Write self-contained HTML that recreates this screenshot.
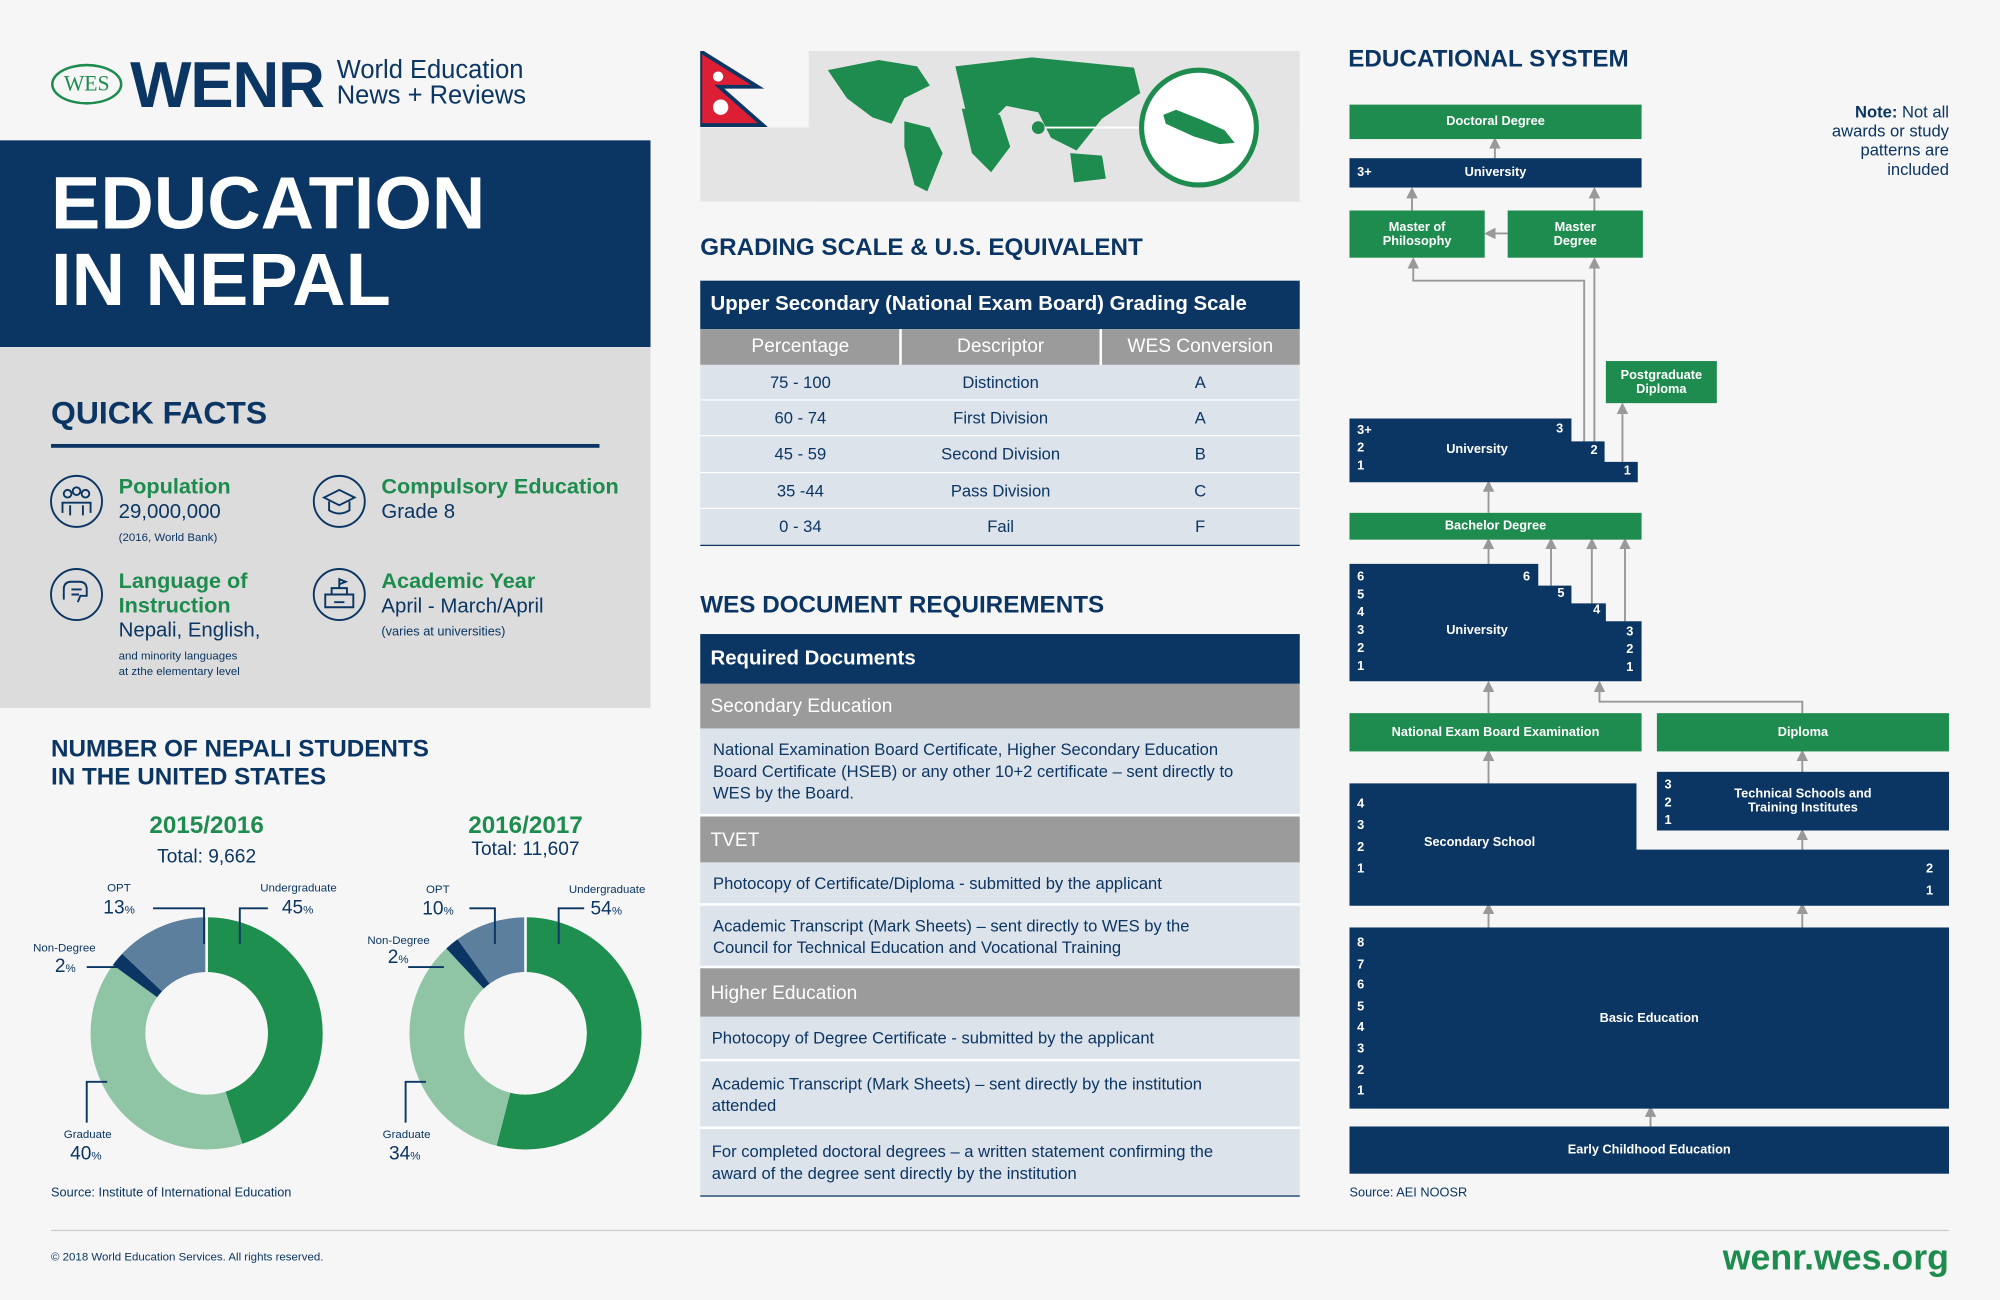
<!DOCTYPE html>
<html><head><meta charset="utf-8">
<style>
*{margin:0;padding:0;box-sizing:border-box}
html,body{width:2000px;height:1300px;overflow:hidden;background:#f6f6f6}
#w{position:absolute;left:0;top:0;width:1568px;height:1019px;transform:scale(1.27551,1.27576);transform-origin:0 0;font-family:"Liberation Sans",sans-serif;color:#0b3563}
.a{position:absolute}
.navy{color:#0b3563}.green{color:#1e8c4e}
.h{font-weight:bold}
.gh{background:#9b9b9b;color:#fff;font-size:15px;padding-left:8px;display:flex;align-items:center}
.doc{background:#dde3ea;border-bottom:2px solid #fff;font-size:13px;color:#0b3563;padding:0 10px;display:flex;align-items:center;line-height:17px;white-space:nowrap}
.bx{position:absolute;color:#fff;font-size:10px;font-weight:bold;display:flex;align-items:center;justify-content:center;text-align:center;line-height:11px}
.gb{background:#1e8c4e}.nb{background:#0b3563}
.num{position:absolute;color:#fff;font-size:10px;font-weight:bold;line-height:14px}
</style></head><body><div id="w">
<!-- logo -->
<div class="a" style="left:40px;top:50px;width:56px;height:32px;border:2px solid #1e8c4e;border-radius:50%;color:#1e8c4e;font-family:'Liberation Serif',serif;font-size:17px;text-align:center;line-height:28px">WES</div>
<div class="a h" style="left:102px;top:37px;font-size:51px;letter-spacing:-1px">WENR</div>
<div class="a" style="left:264px;top:45px;font-size:20px;line-height:20px">World Education<br>News + Reviews</div>
<!-- title -->
<div class="a" style="left:0;top:110px;width:510px;height:162px;background:#0b3563"></div>
<div class="a h" style="left:40px;top:130px;color:#fff;font-size:58px;line-height:60px">EDUCATION<br>IN NEPAL</div>
<div class="a" style="left:0;top:272px;width:510px;height:283px;background:#dcdcdc"></div>
<div class="a h" style="left:40px;top:310px;font-size:25px">QUICK FACTS</div>
<div class="a" style="left:40px;top:348px;width:430px;height:3px;background:#0b3563"></div>
<svg class="a" style="left:0;top:0" width="510" height="560">
<g fill="none" stroke="#0b3563" stroke-width="1.5">
<circle cx="60" cy="393" r="20"/><circle cx="266" cy="393" r="20"/><circle cx="60" cy="466" r="20"/><circle cx="266" cy="466" r="20"/>
<circle cx="53" cy="387" r="3"/><circle cx="60" cy="385" r="3"/><circle cx="67" cy="387" r="3"/><path d="M49 402v-8h22v8M55 404v-8M65 404v-8"/>
<path d="M254 390l12-6 12 6-12 6z M258 393v7q8 5 16 0v-7"/>
<path d="M50 470v-8q0-6 6-6h6q6 0 6 6v5h-5l-2 5M56 462h8M56 466h6"/>
<path d="M255 476v-10h22v10zM260 466v-5h12v5M266 461v-7l5 2-5 2M262 472h8"/>
</g></svg>
<div class="a h green" style="left:93px;top:372px;font-size:17px">Population</div>
<div class="a" style="left:93px;top:393px;font-size:16px">29,000,000</div>
<div class="a" style="left:93px;top:416px;font-size:9px">(2016, World Bank)</div>
<div class="a h green" style="left:299px;top:372px;font-size:17px">Compulsory Education</div>
<div class="a" style="left:299px;top:393px;font-size:16px">Grade 8</div>
<div class="a h green" style="left:93px;top:446px;font-size:17px;line-height:19px">Language of<br>Instruction</div>
<div class="a" style="left:93px;top:486px;font-size:16px">Nepali, English,</div>
<div class="a" style="left:93px;top:508px;font-size:9px;line-height:12px">and minority languages<br>at zthe elementary level</div>
<div class="a h green" style="left:299px;top:446px;font-size:17px">Academic Year</div>
<div class="a" style="left:299px;top:467px;font-size:16px">April - March/April</div>
<div class="a" style="left:299px;top:490px;font-size:10px">(varies at universities)</div>
<div class="a h" style="left:40px;top:577px;font-size:19px;line-height:22px">NUMBER OF NEPALI STUDENTS<br>IN THE UNITED STATES</div>
<div class="a h green" style="left:102px;top:637px;width:120px;text-align:center;font-size:19px">2015/2016</div>
<div class="a" style="left:102px;top:663px;width:120px;text-align:center;font-size:15px">Total: 9,662</div>
<div class="a h green" style="left:352px;top:637px;width:120px;text-align:center;font-size:19px">2016/2017</div>
<div class="a" style="left:352px;top:657px;width:120px;text-align:center;font-size:15px">Total: 11,607</div>
<svg class="a" style="left:0;top:0" width="520" height="960">
<g fill="none" stroke-width="43">
<g transform="rotate(-90 162 810)">
<circle cx="162" cy="810" r="69.5" stroke="#1f8f50" stroke-dasharray="196.5 500"/>
<circle cx="162" cy="810" r="69.5" stroke="#8fc5a5" stroke-dasharray="174.7 500" stroke-dashoffset="-196.5"/>
<circle cx="162" cy="810" r="69.5" stroke="#0b3563" stroke-dasharray="8.7 500" stroke-dashoffset="-371.2"/>
<circle cx="162" cy="810" r="69.5" stroke="#5b7f9c" stroke-dasharray="56.8 500" stroke-dashoffset="-379.9"/>
</g>
<g transform="rotate(-90 412 810)">
<circle cx="412" cy="810" r="69.5" stroke="#1f8f50" stroke-dasharray="235.8 500"/>
<circle cx="412" cy="810" r="69.5" stroke="#8fc5a5" stroke-dasharray="148.5 500" stroke-dashoffset="-235.8"/>
<circle cx="412" cy="810" r="69.5" stroke="#0b3563" stroke-dasharray="8.7 500" stroke-dashoffset="-384.3"/>
<circle cx="412" cy="810" r="69.5" stroke="#5b7f9c" stroke-dasharray="43.7 500" stroke-dashoffset="-393"/>
</g></g>
<g stroke="#fff" stroke-width="2"><line x1="162" y1="810" x2="162" y2="718"/><line x1="412" y1="810" x2="412" y2="718"/></g>
<circle cx="162" cy="810" r="48" fill="#f6f6f6"/><circle cx="412" cy="810" r="48" fill="#f6f6f6"/>
<g fill="none" stroke="#0b3563" stroke-width="1.5">
<path d="M120 712h40v28"/><path d="M188 740v-28h22"/><path d="M68 758h26"/><path d="M68 880v-32h16"/>
<path d="M368 712h20v28"/><path d="M438 740v-28h20"/><path d="M320 758h28"/><path d="M318 880v-32h16"/>
</g>
<g fill="#0b3563" font-family="Liberation Sans" font-size="9">
<text x="84" y="699">OPT</text><text x="204" y="699">Undergraduate</text><text x="26" y="746">Non-Degree</text><text x="50" y="892">Graduate</text>
<text x="334" y="700">OPT</text><text x="446" y="700">Undergraduate</text><text x="288" y="740">Non-Degree</text><text x="300" y="892">Graduate</text>
</g>
<g fill="#0b3563" font-family="Liberation Sans" font-size="15">
<text x="81" y="716">13<tspan font-size="9">%</tspan></text><text x="221" y="716">45<tspan font-size="9">%</tspan></text><text x="43" y="762">2<tspan font-size="9">%</tspan></text><text x="55" y="909">40<tspan font-size="9">%</tspan></text>
<text x="331" y="717">10<tspan font-size="9">%</tspan></text><text x="463" y="717">54<tspan font-size="9">%</tspan></text><text x="304" y="755">2<tspan font-size="9">%</tspan></text><text x="305" y="909">34<tspan font-size="9">%</tspan></text>
</g></svg>
<div class="a" style="left:40px;top:930px;font-size:10px">Source: Institute of International Education</div>

<!-- middle -->
<svg class="a" style="left:549px;top:40px" width="470" height="120">
<rect x="85" y="0" width="385" height="118" fill="#e4e4e4"/><rect x="0" y="60" width="470" height="58" fill="#e4e4e4"/>
<path d="M0 0L45 28H15L49 58H0z" fill="#dc1f34" stroke="#0b3563" stroke-width="3"/>
<circle cx="14" cy="20" r="4" fill="#fff"/><circle cx="16" cy="44" r="6" fill="#fff"/>
<g fill="#1e8c4e">
<path d="M100 15l40-8 30 5 10 15-20 10-10 20-15-5-20-15z"/><path d="M160 55l20 5 10 20-12 30-10-5-8-30z"/>
<path d="M200 12l60-7 80 8 5 20-30 20-20 25-20-10-10-20-25-5-20 20-10-8z"/><path d="M205 45l30 5 8 25-15 20-15-15z"/>
<path d="M290 80l25 2 3 18-25 3z"/><circle cx="265" cy="60" r="5"/>
</g>
<line x1="270" y1="60" x2="345" y2="60" stroke="#fff" stroke-width="1.5"/>
<circle cx="391" cy="60" r="45" fill="#fff" stroke="#1e8c4e" stroke-width="4"/>
<path d="M363 50l10-4 20 8 18 8 8 10-12 1-20-6-22-10z" fill="#1e8c4e"/>
</svg>
<div class="a h" style="left:549px;top:184px;font-size:19px">GRADING SCALE &amp; U.S. EQUIVALENT</div>
<div class="a h" style="left:549px;top:220px;width:470px;height:38px;background:#0b3563;color:#fff;font-size:16px;padding-left:8px;line-height:38px">Upper Secondary (National Exam Board) Grading Scale</div>
<div class="a" style="left:549px;top:258px;width:470px;height:28px;background:#9b9b9b"></div>
<div class="a" style="left:705px;top:258px;width:2px;height:170px;background:#fff"></div>
<div class="a" style="left:862px;top:258px;width:2px;height:170px;background:#fff"></div>
<div class="a" style="left:549px;top:263px;width:157px;text-align:center;color:#fff;font-size:15px">Percentage</div>
<div class="a" style="left:706px;top:263px;width:157px;text-align:center;color:#fff;font-size:15px">Descriptor</div>
<div class="a" style="left:863px;top:263px;width:156px;text-align:center;color:#fff;font-size:15px">WES Conversion</div>
<div class="a" style="left:549px;top:286px;width:470px;height:141px;background:#dde3ea"></div>
<div class="a" style="left:549px;top:313px;width:470px;height:1px;background:#fff"></div>
<div class="a" style="left:549px;top:341px;width:470px;height:1px;background:#fff"></div>
<div class="a" style="left:549px;top:370px;width:470px;height:1px;background:#fff"></div>
<div class="a" style="left:549px;top:398px;width:470px;height:1px;background:#fff"></div>
<div class="a" style="left:549px;top:427px;width:470px;height:1px;background:#0b3563"></div>
<div class="a" style="left:549px;top:286px;width:157px;text-align:center;font-size:13px;line-height:28.2px">75 - 100<br>60 - 74<br>45 - 59<br>35 -44<br>0 - 34</div>
<div class="a" style="left:706px;top:286px;width:157px;text-align:center;font-size:13px;line-height:28.2px">Distinction<br>First Division<br>Second Division<br>Pass Division<br>Fail</div>
<div class="a" style="left:863px;top:286px;width:156px;text-align:center;font-size:13px;line-height:28.2px">A<br>A<br>B<br>C<br>F</div>

<div class="a h" style="left:549px;top:464px;font-size:19px">WES DOCUMENT REQUIREMENTS</div>
<div class="a h" style="left:549px;top:497px;width:470px;height:39px;background:#0b3563;color:#fff;font-size:16px;padding-left:8px;line-height:39px">Required Documents</div>
<div class="a gh" style="left:549px;top:536px;width:470px;height:35px">Secondary Education</div>
<div class="a doc" style="left:549px;top:571px;width:470px;height:69px">National Examination Board Certificate, Higher Secondary Education<br>Board Certificate (HSEB) or any other 10+2 certificate – sent directly to<br>WES by the Board.</div>
<div class="a gh" style="left:549px;top:640px;width:470px;height:36px">TVET</div>
<div class="a doc" style="left:549px;top:676px;width:470px;height:34px">Photocopy of Certificate/Diploma - submitted by the applicant</div>
<div class="a doc" style="left:549px;top:710px;width:470px;height:49px">Academic Transcript (Mark Sheets) – sent directly to WES by the<br>Council for Technical Education and Vocational Training</div>
<div class="a gh" style="left:549px;top:759px;width:470px;height:38px">Higher Education</div>
<div class="a doc" style="left:549px;top:797px;width:470px;height:35px;padding-left:9px">Photocopy of Degree Certificate - submitted by the applicant</div>
<div class="a doc" style="left:549px;top:832px;width:470px;height:53px;padding-left:9px">Academic Transcript (Mark Sheets) – sent directly by the institution<br>attended</div>
<div class="a doc" style="left:549px;top:885px;width:470px;height:53px;padding-left:9px;border-bottom:1px solid #0b3563">For completed doctoral degrees – a written statement confirming the<br>award of the degree sent directly by the institution</div>

<!-- right -->
<div class="a h" style="left:1057px;top:36px;font-size:19px">EDUCATIONAL SYSTEM</div>
<div class="a" style="left:1418px;top:80px;width:110px;text-align:right;font-size:13px;line-height:15px"><b>Note:</b> Not all awards or study patterns are included</div>
<svg class="a" style="left:0;top:0" width="1568" height="1019">
<defs><marker id="m" markerWidth="6" markerHeight="6" refX="3" refY="3" orient="auto"><path d="M0 0L6 3L0 6z" fill="#999"/></marker></defs>
<g stroke="#999" stroke-width="1.5" fill="none" marker-end="url(#m)">
<path d="M1172 124V112"/><path d="M1107 165V151"/><path d="M1250 165V151"/><path d="M1182 183H1168"/>
<path d="M1242 346V220H1108V206"/><path d="M1250 362V206"/><path d="M1272 362V320"/>
<path d="M1167 402V381"/><path d="M1167 442V426"/><path d="M1216 459V426"/><path d="M1248 473V426"/><path d="M1274 487V426"/>
<path d="M1167 559V538"/><path d="M1413 559V550H1254V538"/><path d="M1413 605V592"/><path d="M1167 614V592"/>
<path d="M1167 727V712"/><path d="M1413 727V712"/><path d="M1413 666V654"/><path d="M1294 883V871"/>
</g>
<path d="M1058 328H1232V346H1258V362H1284V378H1058z" fill="#0b3563"/>
<path d="M1058 442H1206V459H1232V473H1259V487H1287V534H1058z" fill="#0b3563"/>
<path d="M1058 614H1283V666H1528V710H1058z" fill="#0b3563"/>
</svg>
<div class="bx gb" style="left:1058px;top:82px;width:229px;height:27px">Doctoral Degree</div>
<div class="bx nb" style="left:1058px;top:124px;width:229px;height:23px">University</div>
<div class="num" style="left:1064px;top:129px">3+</div>
<div class="bx gb" style="left:1058px;top:165px;width:106px;height:37px">Master of<br>Philosophy</div>
<div class="bx gb" style="left:1182px;top:165px;width:106px;height:37px">Master<br>Degree</div>
<div class="bx gb" style="left:1259px;top:283px;width:87px;height:33px">Postgraduate<br>Diploma</div>
<div class="bx" style="left:1058px;top:342px;width:200px;height:20px">University</div>
<div class="num" style="left:1064px;top:331px">3+<br>2<br>1</div>
<div class="num" style="left:1220px;top:330px">3</div><div class="num" style="left:1247px;top:347px">2</div><div class="num" style="left:1273px;top:363px">1</div>
<div class="bx gb" style="left:1058px;top:402px;width:229px;height:21px">Bachelor Degree</div>
<div class="bx" style="left:1058px;top:484px;width:200px;height:20px">University</div>
<div class="num" style="left:1064px;top:446px">6<br>5<br>4<br>3<br>2<br>1</div>
<div class="num" style="left:1194px;top:446px">6</div><div class="num" style="left:1221px;top:459px">5</div><div class="num" style="left:1249px;top:472px">4</div>
<div class="num" style="left:1275px;top:489px">3<br>2<br>1</div>
<div class="bx gb" style="left:1058px;top:559px;width:229px;height:30px">National Exam Board Examination</div>
<div class="bx gb" style="left:1299px;top:559px;width:229px;height:30px">Diploma</div>
<div class="bx nb" style="left:1299px;top:605px;width:229px;height:46px">Technical Schools and<br>Training Institutes</div>
<div class="num" style="left:1305px;top:609px">3<br>2<br>1</div>
<div class="bx" style="left:1058px;top:650px;width:204px;height:20px">Secondary School</div>
<div class="num" style="left:1064px;top:622px;line-height:17px">4<br>3<br>2<br>1</div>
<div class="num" style="left:1510px;top:673px;line-height:17px">2<br>1</div>
<div class="bx nb" style="left:1058px;top:727px;width:470px;height:142px">Basic Education</div>
<div class="num" style="left:1064px;top:732px;line-height:16.6px">8<br>7<br>6<br>5<br>4<br>3<br>2<br>1</div>
<div class="bx nb" style="left:1058px;top:883px;width:470px;height:37px">Early Childhood Education</div>
<div class="a" style="left:1058px;top:930px;font-size:10px">Source: AEI NOOSR</div>

<div class="a" style="left:40px;top:964px;width:1488px;height:1px;background:#ccc"></div>
<div class="a" style="left:40px;top:980px;font-size:9px">© 2018 World Education Services. All rights reserved.</div>
<div class="a h green" style="left:1300px;top:970px;width:228px;text-align:right;font-size:28px">wenr.wes.org</div>
</div></body></html>
